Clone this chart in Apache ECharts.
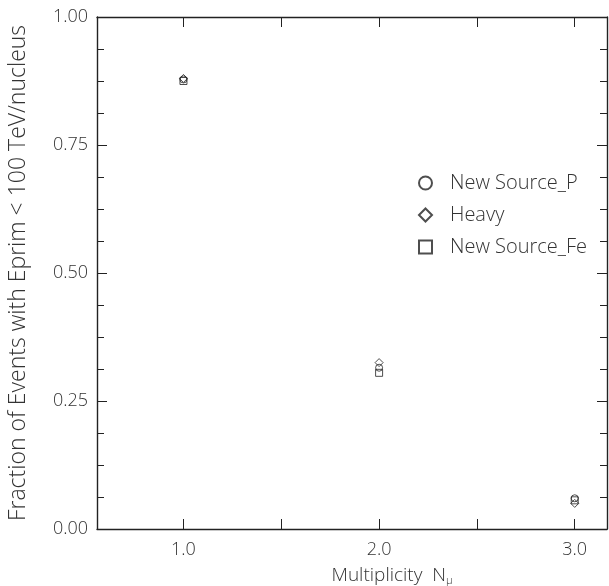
<!DOCTYPE html>
<html>
<head>
<meta charset="utf-8">
<script src="https://cdn.jsdelivr.net/npm/echarts@6/dist/echarts.min.js"></script>
<style>
  html, body { margin: 0; padding: 0; background: #fff; }
  #main { width: 609px; height: 586px; }
</style>
</head>
<body>
<div id="main"></div>
<script>
var multiplicity = [1.0, 2.0, 3.0];
var newSourceP = [0.878, 0.315, 0.060];
var heavy = [0.880, 0.325, 0.050];
var newSourceFe = [0.875, 0.305, 0.056];
var xTicks = [1.0, 1.5, 2.0, 2.5, 3.0];
var xLabels = [1.0, 2.0, 3.0];

function pairs(ys) {
	return multiplicity.map(function(x, i) { return [x, ys[i]]; });
}

var font = 'Open Sans';
var weight = 300;
var ink = '#222';
var txt = '#333';

var chart = echarts.init(document.getElementById('main'));

var markStyle = {
	color: 'transparent',
	borderColor: ink,
	borderWidth: 1
};

function xAxisDef(pos) {
	return {
		type: 'value',
		position: pos,
		min: 0.558,
		max: 3.165,
		axisLine: { show: true, onZero: false, lineStyle: { color: ink, width: 1.4 } },
		axisTick: { show: true, inside: true, length: 10, customValues: xTicks, lineStyle: { color: ink } },
		axisLabel: {
			show: pos === 'bottom',
			customValues: xLabels,
			margin: 12,
			fontFamily: font,
			fontWeight: weight,
			fontSize: 18,
			color: txt,
			formatter: function(v) { return v.toFixed(1); }
		},
		splitLine: { show: false }
	};
}

function yAxisDef(pos) {
	return {
		type: 'value',
		position: pos,
		min: 0,
		max: 1,
		interval: 0.25,
		axisLine: { show: true, onZero: false, lineStyle: { color: ink, width: 1.4 } },
		axisTick: { show: true, inside: true, length: 10, lineStyle: { color: ink } },
		minorTick: { show: true, splitNumber: 4, length: 7, lineStyle: { color: ink } },
		axisLabel: {
			show: pos === 'left',
			margin: 9,
			fontFamily: font,
			fontWeight: weight,
			fontSize: 18,
			color: txt,
			formatter: function(v) { return v.toFixed(2); }
		},
		splitLine: { show: false }
	};
}

var xBottom = xAxisDef('bottom');
xBottom.name = 'Multiplicity  N{sub|\u03bc}';
xBottom.nameLocation = 'middle';
xBottom.nameGap = 36;
xBottom.nameTextStyle = {
	fontFamily: font, fontWeight: weight, fontSize: 19, color: txt,
	padding: [0, 0, 0, 80],
	rich: { sub: { fontFamily: font, fontWeight: weight, fontSize: 11, color: txt, verticalAlign: 'bottom', padding: [10, 0, 0, 0] } }
};

var yLeft = yAxisDef('left');
yLeft.name = 'Fraction of Events with Eprim < 100 TeV/nucleus';
yLeft.nameLocation = 'middle';
yLeft.nameGap = 67;
yLeft.nameTextStyle = { fontFamily: font, fontWeight: weight, fontSize: 23, color: txt };

var option = {
	animation: false,
	backgroundColor: '#fff',
	grid: { left: 97, right: 2, top: 17, bottom: 57, outerBoundsMode: 'none' },
	xAxis: [xBottom, xAxisDef('top')],
	yAxis: [yLeft, yAxisDef('right')],
	legend: {
		orient: 'vertical',
		left: 413,
		top: 168,
		itemWidth: 13,
		itemHeight: 13,
		itemGap: 12,
		textStyle: { fontFamily: font, fontWeight: weight, fontSize: 20, color: txt, padding: [0, 0, 0, 13] },
		data: [
			{ name: 'New Source_P', icon: 'circle' },
			{ name: 'Heavy', icon: 'diamond' },
			{ name: 'New Source_Fe', icon: 'rect' }
		]
	},
	series: [{
		name: 'New Source_P',
		type: 'scatter',
		symbol: 'circle',
		symbolSize: 7,
		itemStyle: markStyle,
		data: pairs(newSourceP)
	}, {
		name: 'Heavy',
		type: 'scatter',
		symbol: 'diamond',
		symbolSize: 8,
		itemStyle: markStyle,
		data: pairs(heavy)
	}, {
		name: 'New Source_Fe',
		type: 'scatter',
		symbol: 'rect',
		symbolSize: 7,
		itemStyle: markStyle,
		data: pairs(newSourceFe)
	}]
};

chart.setOption(option);
</script>
</body>
</html>
